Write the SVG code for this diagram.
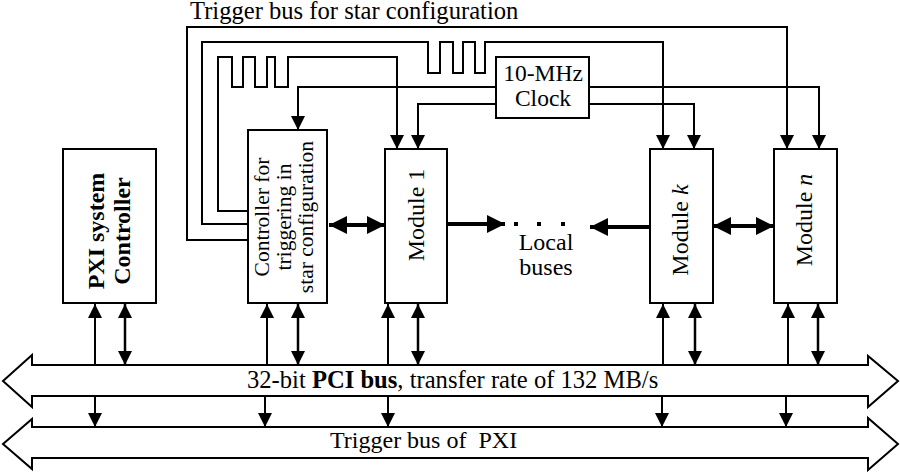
<svg xmlns="http://www.w3.org/2000/svg" width="900" height="472" viewBox="0 0 900 472">
<style>
  .box { fill: #fff; stroke: #000; stroke-width: 2; }
  .w { fill: none; stroke: #000; stroke-width: 2; }
  .a { fill: none; stroke: #000; stroke-width: 2; marker-end: url(#ah); }
  .d { fill: none; stroke: #000; stroke-width: 2.5; marker-start: url(#ah); marker-end: url(#ah); }
  .t { stroke: #000; stroke-width: 4; fill: none; }
  .bus { fill: #fff; stroke: #000; stroke-width: 2; stroke-linejoin: miter; }
  text { font-family: "Liberation Serif", "Times New Roman", serif; font-size: 24px; fill: #000; }
  .c { text-anchor: middle; }
  .b { font-weight: bold; }
  .i { font-style: italic; }
  .s { font-size: 21.5px; }
  .big { font-size: 24.6px; }
  .clk { font-size: 23.5px; }
</style>
<defs>
  <marker id="ah" markerUnits="userSpaceOnUse" markerWidth="14" markerHeight="14" viewBox="0 0 14 14" refX="14" refY="7" orient="auto-start-reverse">
    <path d="M0,0 L14,7 L0,14 z" fill="#000"/>
  </marker>
  <marker id="ahb" markerUnits="userSpaceOnUse" markerWidth="18" markerHeight="18" viewBox="0 0 18 18" refX="18" refY="9" orient="auto-start-reverse">
    <path d="M0,0 L18,9 L0,18 z" fill="#000"/>
  </marker>
</defs>

<text class="big" x="190" y="19">Trigger bus for star configuration</text>

<g id="buses">
  <polygon id="pci-bus" class="bus" points="32,365 868,365 868,356 898,381 868,407 868,396 32,396 32,407 3,381 32,355"/>
  <text class="big" x="247" y="388">32-bit <tspan class="b">PCI bus</tspan>, transfer rate of 132 MB/s</text>
  <polygon id="trigger-bus" class="bus" points="32,427 868,427 868,418 898,444 868,470 868,458 32,458 32,469 3,444 32,419"/>
  <text x="330" y="448" xml:space="preserve">Trigger bus of  PXI</text>
</g>

<g id="pxi-controller">
  <rect class="box" x="63" y="149" width="93" height="154"/>
  <g transform="translate(0,231) rotate(-90)">
    <text class="c b" x="0" y="104">PXI system</text>
    <text class="c b" x="0" y="130">Controller</text>
  </g>
</g>

<g id="star-controller">
  <rect class="box" x="248" y="130" width="79" height="173"/>
  <g transform="translate(0,217) rotate(-90)">
    <text class="c s" x="0" y="269">Controller for</text>
    <text class="c s" x="0" y="291">triggering in</text>
    <text class="c s" x="0" y="313">star configuration</text>
  </g>
</g>

<g id="module-1">
  <rect class="box" x="385" y="149" width="62" height="154"/>
  <text class="c" transform="translate(0,215) rotate(-90)" x="0" y="424">Module 1</text>
</g>

<g id="module-k">
  <rect class="box" x="650" y="149" width="63" height="154"/>
  <text class="c" transform="translate(0,230) rotate(-90)" x="0" y="688">Module <tspan class="i">k</tspan></text>
</g>

<g id="module-n">
  <rect class="box" x="774" y="149" width="63" height="154"/>
  <text class="c" transform="translate(0,220) rotate(-90)" x="0" y="812">Module <tspan class="i">n</tspan></text>
</g>

<g id="clock">
  <rect class="box" x="496" y="57" width="93" height="61"/>
  <text class="c clk" x="543" y="81">10-MHz</text>
  <text class="c clk" x="543" y="106">Clock</text>
</g>

<g id="local-buses">
  <rect x="514" y="222" width="4" height="4"/>
  <rect x="537" y="222" width="4" height="4"/>
  <rect x="561" y="222" width="4" height="4"/>
  <text class="c" x="546" y="250">Local</text>
  <text class="c" x="546" y="275">buses</text>
</g>

<g id="connectors">
  <polyline class="a" points="248,240 187,240 187,27 787,27 787,149"/>
  <polyline class="a" points="248,224 202,224 202,42 428,42 428,73 440,73 440,42 453,42 453,73 463,73 463,42 475,42 475,73 485,73 485,42 663,42 663,149"/>
  <polyline class="a" points="248,211 218,211 218,57 232,57 232,87 243,87 243,57 255,57 255,87 267,87 267,57 275,57 275,87 288,87 288,57 397,57 397,149"/>
  <polyline class="a" points="496,87 298,87 298,130"/>
  <polyline class="a" points="496,104 418,104 418,149"/>
  <polyline class="a" points="589,87 819,87 819,149"/>
  <polyline class="a" points="589,104 694,104 694,149"/>
  <line class="t" x1="329" y1="225" x2="385" y2="225" marker-start="url(#ahb)" marker-end="url(#ahb)"/>
  <line class="t" x1="447" y1="224" x2="505" y2="224" marker-end="url(#ahb)"/>
  <line class="t" x1="650" y1="227" x2="590" y2="227" marker-end="url(#ahb)"/>
  <line class="t" x1="713" y1="226" x2="774" y2="226" marker-start="url(#ahb)" marker-end="url(#ahb)"/>
  <line class="a" x1="95" y1="365" x2="95" y2="304"/>
  <line class="d" x1="125" y1="365" x2="125" y2="304"/>
  <line class="a" x1="267" y1="365" x2="267" y2="304"/>
  <line class="d" x1="298" y1="365" x2="298" y2="304"/>
  <line class="a" x1="388" y1="365" x2="388" y2="304"/>
  <line class="d" x1="418" y1="365" x2="418" y2="304"/>
  <line class="a" x1="663" y1="365" x2="663" y2="304"/>
  <line class="d" x1="695" y1="365" x2="695" y2="304"/>
  <line class="a" x1="788" y1="365" x2="788" y2="304"/>
  <line class="d" x1="818" y1="365" x2="818" y2="304"/>
  <line class="a" x1="95" y1="396" x2="95" y2="427"/>
  <line class="a" x1="265" y1="396" x2="265" y2="427"/>
  <line class="a" x1="388" y1="396" x2="388" y2="427"/>
  <line class="a" x1="662" y1="396" x2="662" y2="427"/>
  <line class="a" x1="786" y1="396" x2="786" y2="427"/>
</g>
</svg>
